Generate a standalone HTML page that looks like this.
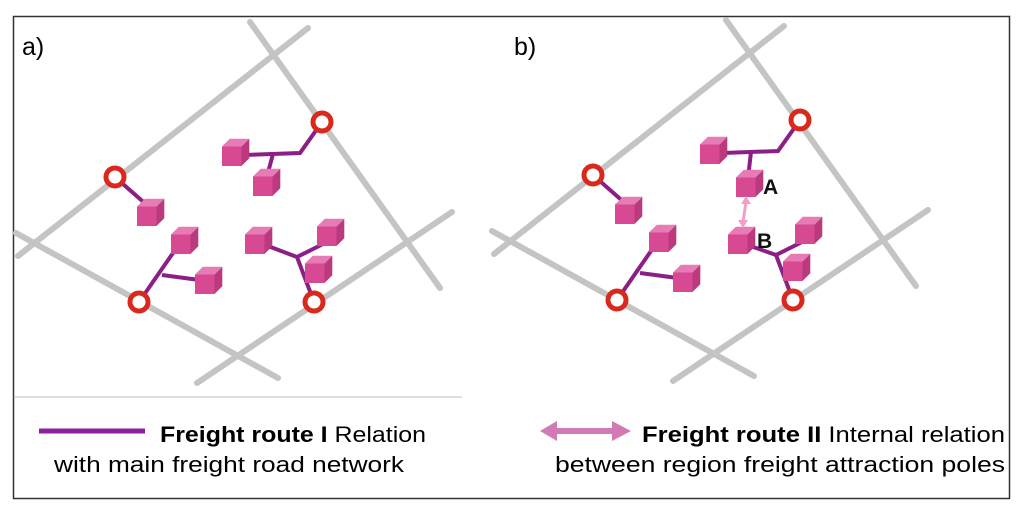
<!DOCTYPE html>
<html><head><meta charset="utf-8"><style>
html,body{margin:0;padding:0;background:#fff;}
svg{display:block;}
text{font-family:"Liberation Sans",sans-serif;}
</style></head><body>
<svg width="1024" height="514" viewBox="0 0 1024 514" xmlns="http://www.w3.org/2000/svg">
<defs>
<g id="cube" transform="scale(1.3)">
<polygon points="-10,-5 -4,-11 11,-11 5,-5" fill="#e77bb5"/>
<rect x="-10" y="-5" width="15" height="15" fill="#d74a93"/>
<polygon points="5,-5 11,-11 11,4 5,10" fill="#bb3a7e"/>
</g>
<g id="ring"><circle r="9" fill="#fff" stroke="#d8291c" stroke-width="5"/></g>
<g id="roads" stroke="#c4c4c4" stroke-width="6" fill="none" stroke-linecap="round">
<line x1="250" y1="22" x2="440" y2="288"/>
<line x1="308" y1="28" x2="18" y2="256"/>
<line x1="16" y1="233" x2="278" y2="378"/>
<line x1="197" y1="383" x2="452" y2="212"/>
</g>
</defs>
<rect x="13.5" y="16.5" width="996" height="482" fill="none" stroke="#333" stroke-width="1.5"/>
<line x1="14" y1="397" x2="462" y2="397" stroke="#bbb" stroke-width="1"/>
<!-- panel a -->
<use href="#roads"/>
<g stroke="#8b1f86" stroke-width="4" fill="none">
<polyline points="322,122 300,153 245,155"/><line x1="273" y1="154" x2="266" y2="180"/>
<line x1="115" y1="177" x2="148" y2="206"/>
<line x1="139" y1="302" x2="182" y2="240"/><line x1="162" y1="275" x2="207" y2="281"/>
<polyline points="314,302 297,257 260,243"/><line x1="297" y1="257" x2="329" y2="241"/>
</g>
<use href="#cube" x="235" y="153"/><use href="#cube" x="266" y="183"/>
<use href="#cube" x="150" y="213"/><use href="#cube" x="184" y="241"/>
<use href="#cube" x="208" y="281"/><use href="#cube" x="258" y="241"/>
<use href="#cube" x="330" y="233"/><use href="#cube" x="318" y="270"/>
<use href="#ring" x="322" y="122"/><use href="#ring" x="115" y="177"/>
<use href="#ring" x="139" y="302"/><use href="#ring" x="314" y="302"/>
<text x="22" y="55" font-size="25">a)</text>
<!-- panel b -->
<use href="#roads" x="476" y="-2"/>
<g stroke="#8b1f86" stroke-width="4" fill="none">
<polyline points="800,120 778,151 723,153"/><line x1="751" y1="152" x2="748" y2="178"/>
<line x1="593" y1="175" x2="626" y2="204"/>
<line x1="617" y1="300" x2="660" y2="238"/><line x1="640" y1="273" x2="685" y2="279"/>
<polyline points="793,300 776,255 742,243"/><line x1="776" y1="255" x2="808" y2="239"/>
</g>
<use href="#cube" x="713" y="151"/><use href="#cube" x="749" y="184"/>
<use href="#cube" x="628" y="211"/><use href="#cube" x="662" y="239"/>
<use href="#cube" x="686" y="279"/><use href="#cube" x="741" y="241"/>
<use href="#cube" x="808" y="231"/><use href="#cube" x="796" y="268"/>
<use href="#ring" x="800" y="120"/><use href="#ring" x="593" y="175"/>
<use href="#ring" x="617" y="300"/><use href="#ring" x="793" y="300"/>
<g stroke="#f0a0c8" stroke-width="3"><line x1="746" y1="202" x2="743" y2="222"/></g>
<polygon points="746,196 741,204 751,204" fill="#f0a0c8"/>
<polygon points="743,228 738,220 748,220" fill="#f0a0c8"/>
<text x="763" y="194" font-size="21" font-weight="bold" fill="#111">A</text>
<text x="757" y="248" font-size="21" font-weight="bold" fill="#111">B</text>
<text x="514" y="55" font-size="25">b)</text>
<!-- legend -->
<line x1="39" y1="431" x2="145" y2="431" stroke="#8b1f9e" stroke-width="5"/>
<text x="160" y="442" font-size="22" textLength="266" lengthAdjust="spacingAndGlyphs"><tspan font-weight="bold">Freight route I</tspan>  Relation</text>
<text x="54" y="472" font-size="22" textLength="350" lengthAdjust="spacingAndGlyphs">with main freight road network</text>
<polygon points="540,431 557,421 557,428 612,428 612,421 631,431 612,441 612,434 557,434 557,441" fill="#d17ab3"/>
<text x="642" y="442" font-size="22" textLength="363" lengthAdjust="spacingAndGlyphs"><tspan font-weight="bold">Freight route II</tspan>  Internal relation</text>
<text x="555" y="472" font-size="22" textLength="450" lengthAdjust="spacingAndGlyphs">between region freight attraction poles</text>
</svg>
</body></html>
